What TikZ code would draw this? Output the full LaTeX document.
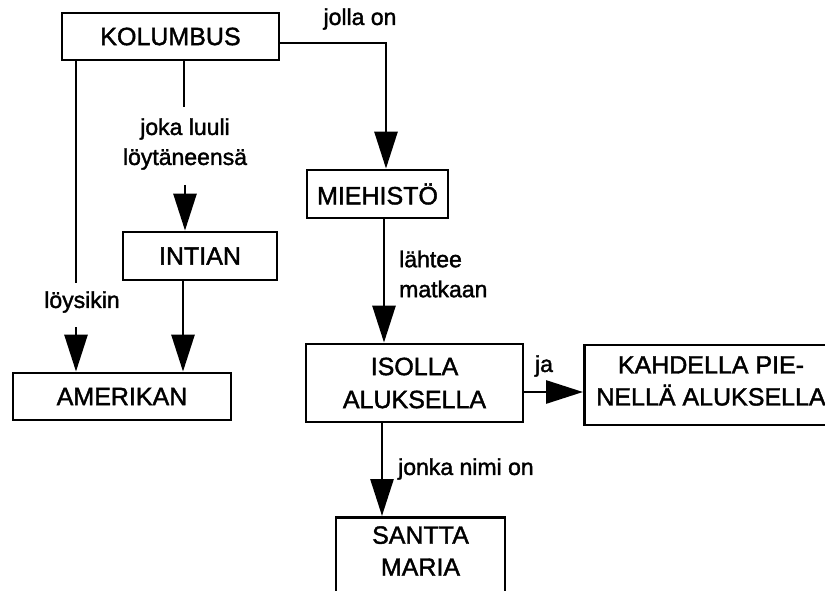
\documentclass[tikz,border=0pt]{standalone}
\usepackage{fontspec}
\setmainfont{Liberation Sans}[BoldFont=Liberation Sans, BoldFeatures={FakeBold=1.6}]
\usetikzlibrary{arrows.meta}
\begin{document}
\begin{tikzpicture}[x=1pt,y=-1pt,
  box/.style={draw=black, line width=2.8pt, rectangle, inner sep=0pt, align=center,
    font=\fontsize{25}{33}\selectfont\bfseries, fill=white},
  txt/.style={inner sep=0pt, align=center, font=\fontsize{25}{32}\selectfont\bfseries},
  lbl/.style={inner sep=0pt, font=\fontsize{23}{30}\selectfont\bfseries},
  conn/.style={line width=2.8pt},
  arr/.style={line width=2.8pt, -{Triangle[length=37pt,width=23pt]}}]
\useasboundingbox (0,0) rectangle (825,591);
\clip (0,0) rectangle (825,591);
\fill[white] (0,0) rectangle (825,591);
% boxes
\node[box, minimum width=217pt, minimum height=47pt] (kol) at (170.5,36.5) {KOLUMBUS};
\node[box, minimum width=154pt, minimum height=48pt] (int) at (200,256) {INTIAN};
\node[box, minimum width=141pt, minimum height=48pt] (mie) at (377.5,194) {MIEHISTÖ};
\node[box, minimum width=218pt, minimum height=47pt] (ame) at (122,396.5) {AMERIKAN};
\node[box, minimum width=217pt, minimum height=78pt] (iso) at (414.5,383) {ISOLLA\\ALUKSELLA};
\node[box, minimum width=300pt, minimum height=80pt, anchor=west] (kah) at (583,385) {};
\node[txt] (kahtxt) at (711,381) {KAHDELLA PIE-\\NELLÄ ALUKSELLA};
\node[box, minimum width=169pt, minimum height=90pt, anchor=north] (san) at (420.5,516) {};
\node[txt] (santxt) at (420.5,551) {SANTTA\\MARIA};
% labels
\node[lbl] (l1) at (360,19) {jolla on};
\node[lbl, align=center] (l2) at (185,144) {joka luuli\\löytäneensä};
\node[lbl] (l3) at (82,302) {löysikin};
\node[lbl, align=left, anchor=west] (l4) at (399,274) {lähtee\\matkaan};
\node[lbl] (l5) at (544,366) {ja};
\node[lbl, anchor=west] (l6) at (398,469) {jonka nimi on};
% coordinates
\coordinate (c1) at (76,283);
\coordinate (c2) at (76,327);
\coordinate (c3) at (184,107);
\coordinate (c4) at (185,185);
% connectors
\draw[conn] (kol.south -| c1) -- (c1);
\draw[arr] (c2) -- (ame.north -| c2);
\draw[conn] (kol.south -| c3) -- (c3);
\draw[arr] (c4) -- (int.north -| c4);
\draw[arr] (int.south -| 183,0) -- (ame.north -| 183,0);
\draw[arr] (kol.east |- 0,43) -| ([xshift=8.5pt]mie.north);
\draw[arr] ([xshift=6.5pt]mie.south) -- ([xshift=-30.5pt]iso.north);
\draw[arr] (iso.east |- 0,392) -- (kah.west |- 0,392);
\draw[arr] ([xshift=-32.5pt]iso.south) -- (san.north -| 382,0);
\end{tikzpicture}
\end{document}
